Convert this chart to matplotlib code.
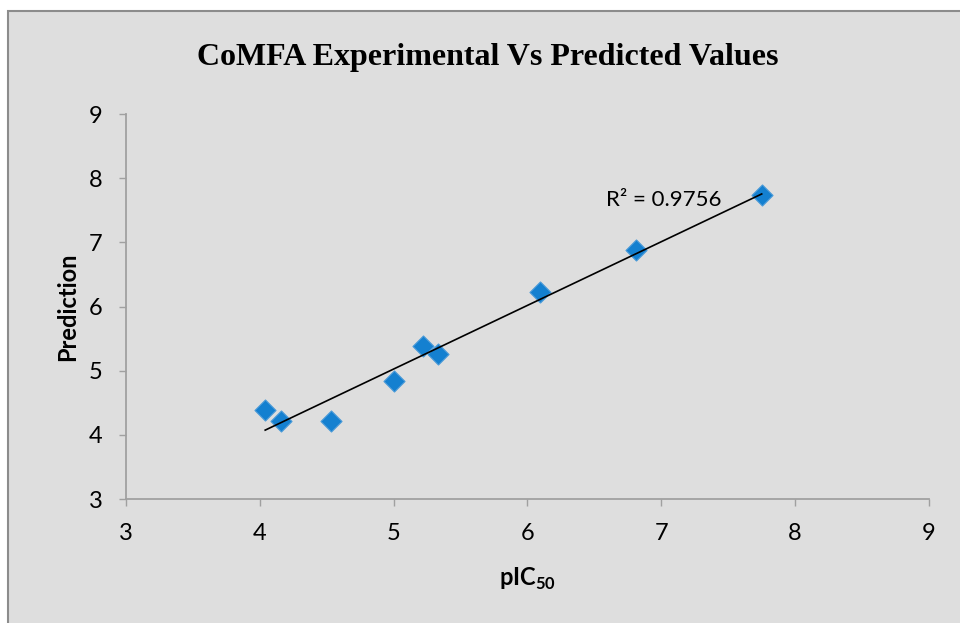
import numpy as np
import matplotlib
matplotlib.use("Agg")
import matplotlib.pyplot as plt
from matplotlib.patches import Rectangle

# experimental pIC50 vs CoMFA predicted activity
pic50 = [4.04, 4.16, 4.53, 5.00, 5.22, 5.33, 6.09, 6.81, 7.75]
predicted = [4.39, 4.22, 4.21, 4.84, 5.38, 5.26, 6.22, 6.88, 7.73]
r2_label = "R\u00b2 = 0.9756"
ticks = [3, 4, 5, 6, 7, 8, 9]

plt.rcParams['font.family'] = ['Lato', 'DejaVu Sans']
plt.rcParams['mathtext.fontset'] = 'custom'
plt.rcParams['mathtext.rm'] = 'Lato:bold'
plt.rcParams['mathtext.bf'] = 'Lato:bold'

fig = plt.figure(figsize=(9.6, 6.23), dpi=100)
fig.patch.set_facecolor('white')

# chart area panel with thin grey border
panel = Rectangle((8 / 960, -0.01), 1.0, 1 - 11 / 623 + 0.01,
                  transform=fig.transFigure, facecolor='#dedede',
                  edgecolor='#8c8c8c', linewidth=1.5, zorder=-10)
fig.add_artist(panel)

ax = fig.add_axes([126 / 960, 1 - 499 / 623, (929 - 126) / 960, (499 - 114) / 623])
ax.set_facecolor('none')

x = np.array(pic50)
y = np.array(predicted)
ax.scatter(x, y, marker='D', s=115, color='#1480d0', edgecolors='#4a9ad8',
           linewidths=0.8, zorder=3)

# linear trendline over the data range
slope, icpt = np.polyfit(x, y, 1)
xs = np.array([x.min(), x.max()])
ax.plot(xs, slope * xs + icpt, color='black', lw=1.2, zorder=4)
ax.text(6.59, 7.66, r2_label, fontsize=16, va='center', ha='left')

ax.set_xlim(3, 9)
ax.set_ylim(3, 9)
ax.set_xticks(ticks)
ax.set_yticks(ticks)
for side in ('top', 'right'):
    ax.spines[side].set_visible(False)
for side in ('left', 'bottom'):
    ax.spines[side].set_color('#a0a0a0')
    ax.spines[side].set_linewidth(1.3)
ax.tick_params(direction='out', length=5, width=1, color='#a0a0a0',
               labelsize=17)
ax.tick_params(axis='x', pad=12)
ax.tick_params(axis='y', pad=12)

ax.set_xlabel(r'pIC$_{50}$', fontsize=17, fontweight='bold', labelpad=16)
ax.set_ylabel('Prediction', fontsize=17, fontweight='bold', labelpad=7)

fig.text(0.508, 1 - 58 / 623, 'CoMFA Experimental Vs Predicted Values',
         family='Liberation Serif', fontweight='bold', fontsize=23,
         ha='center', va='center')

fig.savefig('out.png', dpi=100)
